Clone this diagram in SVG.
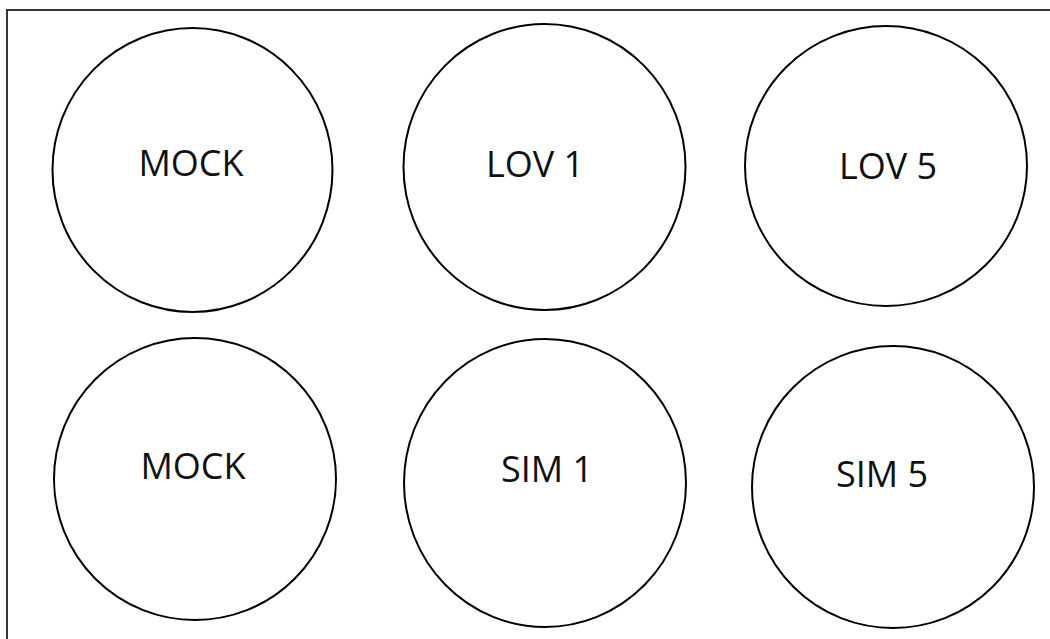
<svg xmlns="http://www.w3.org/2000/svg" width="1050" height="639" viewBox="0 0 1050 639">
<style>
.c{fill:none;stroke:#000;stroke-width:2}
.t{font-family:"Open Sans","Noto Sans",sans-serif;font-size:36px;fill:#111;text-anchor:middle;dominant-baseline:central}
.b{fill:none;stroke:#333;stroke-width:2}
</style>
<rect width="1050" height="639" fill="#fff"/>
<path class="b" d="M1050 10 H7 V639"/>
<g id="n1"><ellipse class="c" cx="192.5" cy="170" rx="140" ry="142"/><text class="t" x="191" y="162">MOCK</text></g>
<g id="n2"><ellipse class="c" cx="544.5" cy="167" rx="141" ry="143"/><text class="t" x="535" y="163">LOV 1</text></g>
<g id="n3"><ellipse class="c" cx="886" cy="166" rx="141" ry="140"/><text class="t" x="888" y="165">LOV 5</text></g>
<g id="n4"><ellipse class="c" cx="195" cy="479" rx="141" ry="141"/><text class="t" x="193" y="465">MOCK</text></g>
<g id="n5"><ellipse class="c" cx="545" cy="483" rx="141" ry="144"/><text class="t" x="547" y="468">SIM 1</text></g>
<g id="n6"><ellipse class="c" cx="893" cy="487" rx="141" ry="141"/><text class="t" x="882" y="473">SIM 5</text></g>
<g id="connectors"/>
</svg>
